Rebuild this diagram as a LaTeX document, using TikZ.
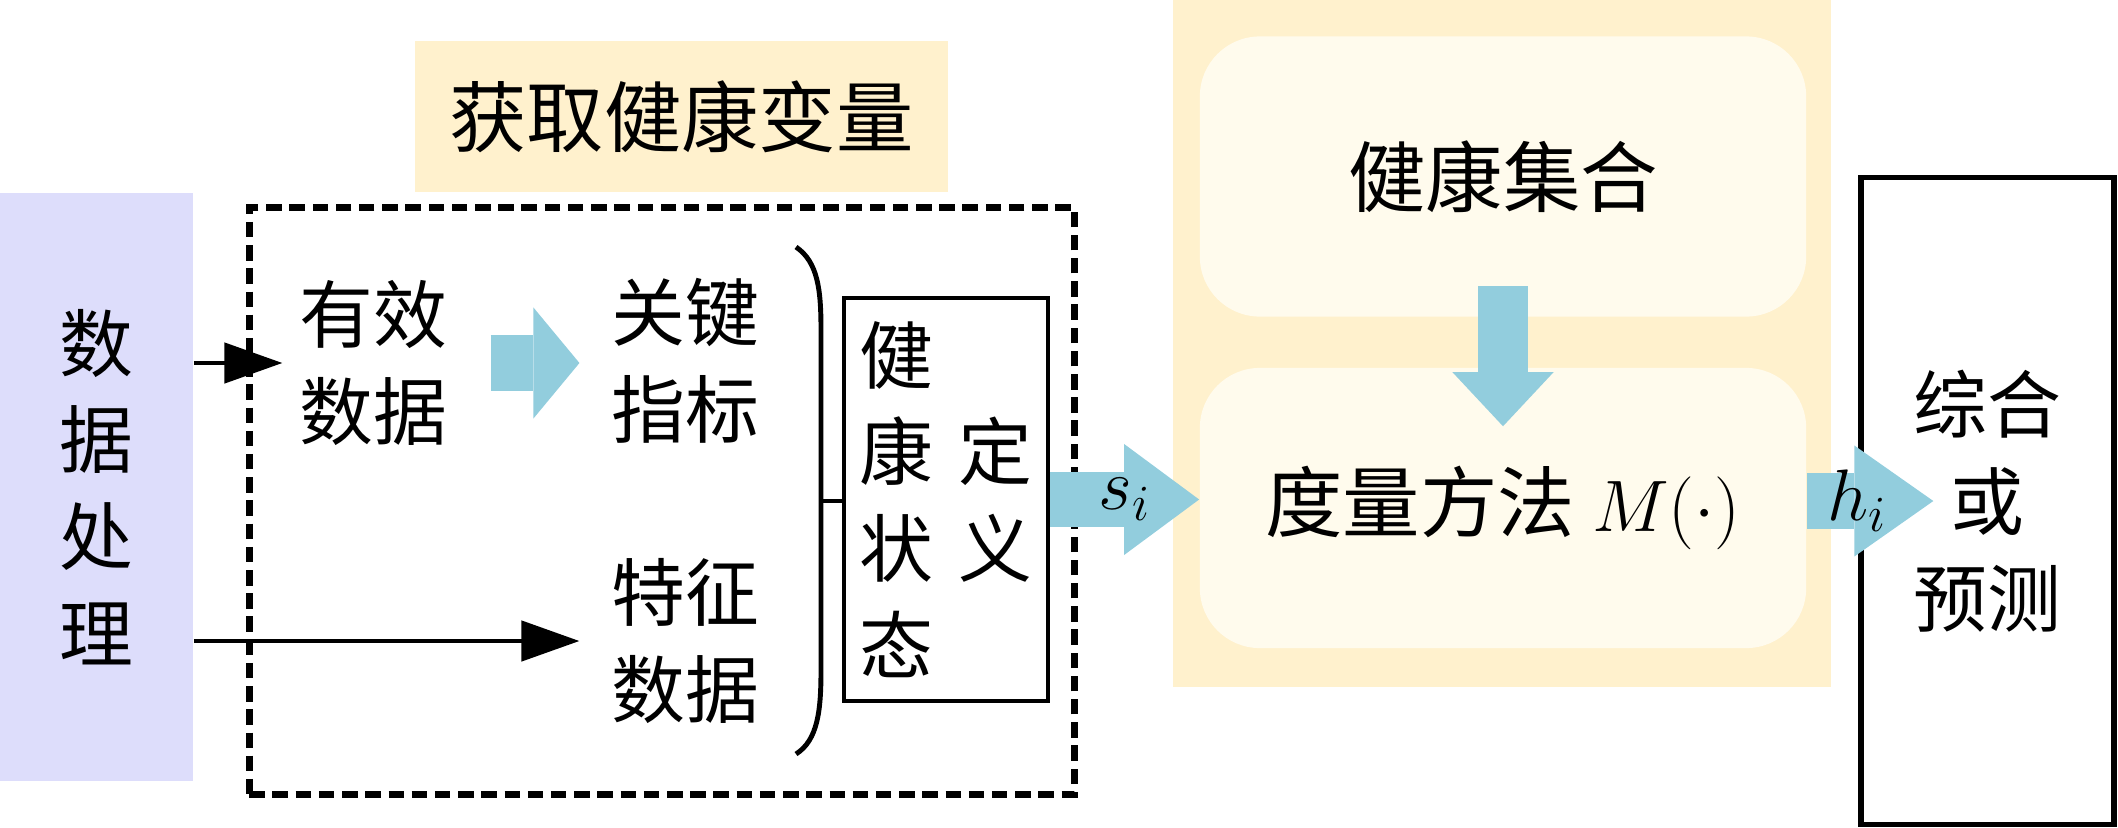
\documentclass[tikz,border=0pt]{standalone}
\usepackage{fontspec}
\setmainfont{Noto Sans CJK SC}
\usetikzlibrary{arrows.meta}
\definecolor{lavender}{RGB}{221,221,251}
\definecolor{wheat}{RGB}{255,241,205}
\definecolor{cream}{RGB}{255,251,237}
\definecolor{skyblue}{RGB}{146,205,221}
\tikzset{x=0.01cm,y=-0.01cm,
  txt/.style={font=\fontsize{21pt}{27.5pt}\selectfont,align=center,inner sep=0pt},
  bigtxt/.style={font=\fontsize{22pt}{28pt}\selectfont,align=center,inner sep=0pt},
  arr/.style={line width=1.3pt,-{Triangle[length=0.58cm,width=0.4cm]}},
  blockarrow/.style n args={3}{line width=#1,skyblue,-{Triangle[length=#3,width=#2,line width=0pt]}},
  panel/.style={bigtxt,fill=cream,rounded corners=0.6cm,minimum width=6.06cm,minimum height=2.8cm}}
\begin{document}
\begin{tikzpicture}
\useasboundingbox (0,0) rectangle (2118,827);
\fill[wheat] (1173,0) rectangle (1831,687);

\node[bigtxt,fill=wheat,minimum width=5.33cm,minimum height=1.51cm] (title) at (681.5,116.5) {获取健康变量};
\node[draw,line width=1.9pt,dash pattern=on 4.4pt off 2.2pt,minimum width=8.25cm,minimum height=5.86cm] (acq) at (662,501) {};
\node[txt,fill=lavender,minimum width=1.93cm,minimum height=5.88cm] (proc) at (96.5,487) {数\\据\\处\\理};
\node[txt] (valid) at (373,363) {有效\\数据};
\node[txt] (key) at (685,361) {关键\\指标};
\node[txt] (feat) at (685,641) {特征\\数据};
\node[txt,align=left,draw,line width=1.3pt,minimum width=2.04cm,minimum height=4.03cm] (def) at (946,499.5)
  {健\\康\hspace{7pt}定\\状\hspace{7pt}义\\态};
\node[panel] (set) at (1503,176.5) {健康集合};
\node[panel] (meas) at (1503,508) {度量方法 $M(\cdot)$};
\node[txt,draw,line width=1.5pt,minimum width=2.53cm,minimum height=6.46cm] (out) at (1987.5,501) {综合\\或\\预测};

\draw[line width=1.4pt] (796,247) .. controls (818,262) and (821,290) .. (821,330) -- (821,670)
  .. controls (821,710) and (818,740) .. (796,754);
\coordinate (brk) at (821,501);
\coordinate (hi) at ([xshift=0.75cm]out.west);

\draw[arr,shorten >=0.16cm] (proc.east |- valid.west) -- (valid.west);
\draw[arr,shorten >=0.31cm] (proc.east |- feat.west) -- (feat.west);
\draw[line width=1.3pt] (brk) -- (def.west |- brk);
\draw[blockarrow={0.56cm}{1.11cm}{0.46cm},shorten <=0.43cm,shorten >=0.31cm] (valid.east) -- (key.west |- valid.east);
\draw[blockarrow={0.5cm}{1.01cm}{0.54cm}] ([yshift=0.31cm]set.south) -- ([yshift=-0.59cm]meas.north);
\draw[blockarrow={0.55cm}{1.11cm}{0.75cm}] (def.east) -- (def.east -| meas.west)
  node[midway,text=black,font=\fontsize{21pt}{25pt}\selectfont] {$s_i$};
\draw[blockarrow={0.55cm}{1.11cm}{0.79cm}] (meas.east |- out.west) -- (hi)
  node[pos=0.4,text=black,font=\fontsize{21pt}{25pt}\selectfont] {$h_i$};
\end{tikzpicture}
\end{document}
